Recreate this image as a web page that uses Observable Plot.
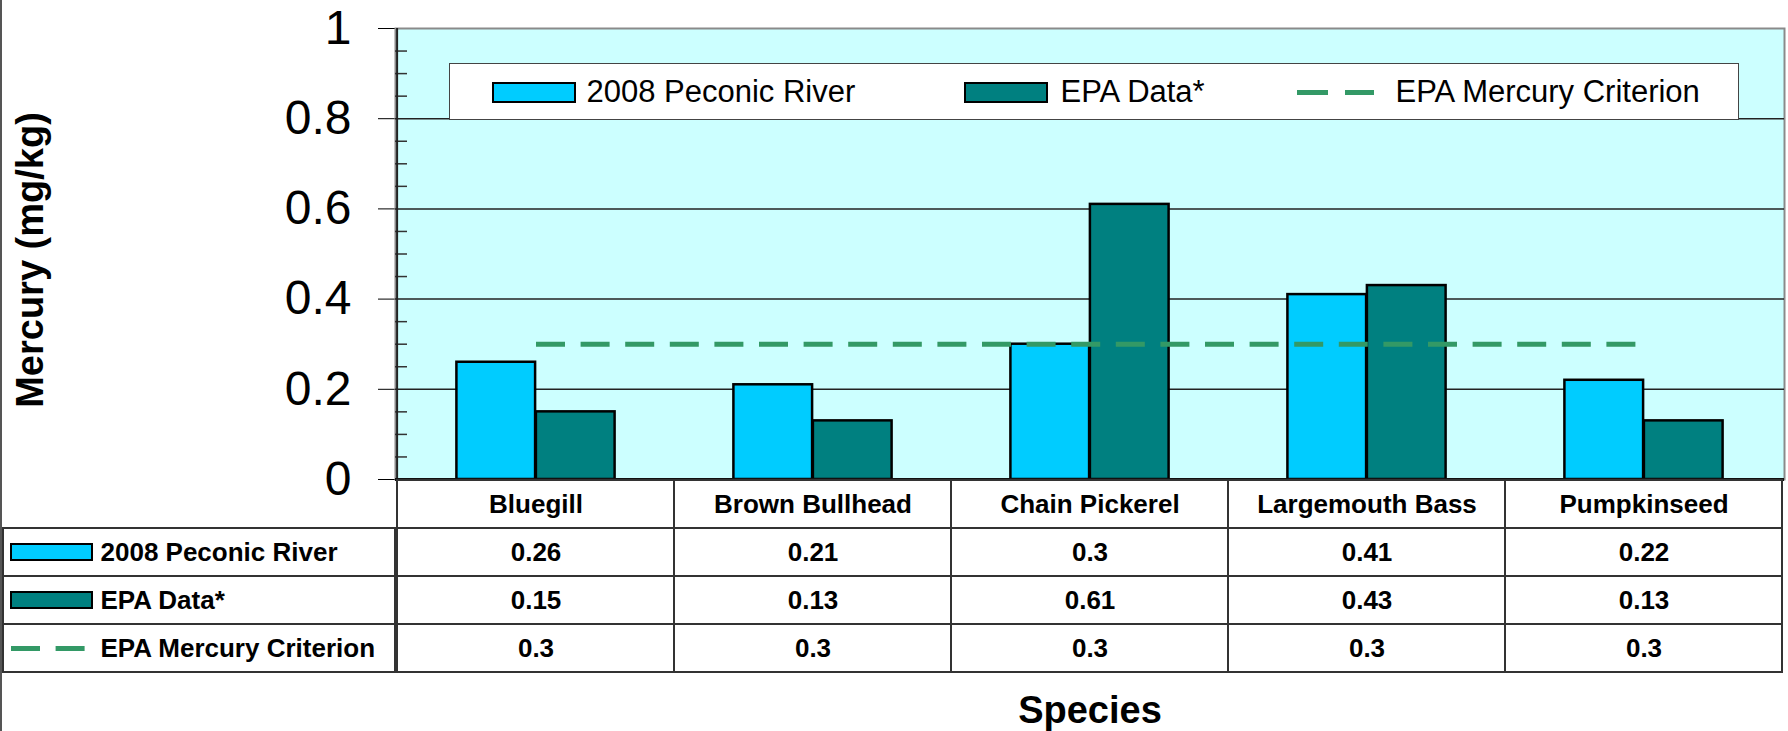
<!DOCTYPE html>
<html>
<head>
<meta charset="utf-8">
<script src="https://cdn.jsdelivr.net/npm/d3@7"></script>
<script src="https://cdn.jsdelivr.net/npm/@observablehq/plot@0.6"></script>
<style>
  html, body { margin: 0; padding: 0; background: #fff; }
  #wrap { position: relative; width: 1788px; height: 731px; background: #fff; overflow: hidden; font-family: "Liberation Sans", Arial, sans-serif; }
  #chart, #table { position: absolute; left: 0; }
  #chart { top: 0; }
  #table { top: 470px; }
  #chart svg, #table svg { overflow: visible; background: transparent; }
  #edge { position: absolute; left: 0; top: 0; width: 2px; height: 731px; background: #555; }
  #legend { position: absolute; left: 449px; top: 63px; width: 1290px; height: 57px; background: #fff; border: 1.5px solid #444; box-sizing: border-box; }
  #legend .sw { position: absolute; top: 17.5px; width: 84px; height: 21px; border: 2px solid #000; box-sizing: border-box; }
  #legend .dash { position: absolute; top: 26px; height: 5px; background: #339966; }
  #legend .lt { position: absolute; top: 12px; font-size: 31px; line-height: 31px; color: #000; white-space: nowrap; }
</style>
</head>
<body>
<div id="wrap">
  <div id="chart"></div>
  <div id="table"></div>
  <div id="legend"></div>
  <div id="edge"></div>
</div>
<script>
// ---------- data ----------
const species = ["Bluegill", "Brown Bullhead", "Chain Pickerel", "Largemouth Bass", "Pumpkinseed"];
const peconic2008 = [0.26, 0.21, 0.3, 0.41, 0.22];
const epaData = [0.15, 0.13, 0.61, 0.43, 0.13];
const epaCriterion = [0.3, 0.3, 0.3, 0.3, 0.3];
const seriesNames = ["2008 Peconic River", "EPA Data*", "EPA Mercury Criterion"];
const yTicks = [0, 0.2, 0.4, 0.6, 0.8, 1];
const yGrid = [0.2, 0.4, 0.6, 0.8];
const yMinorTicks = [0.05, 0.1, 0.15, 0.25, 0.3, 0.35, 0.45, 0.5, 0.55, 0.65, 0.7, 0.75, 0.85, 0.9, 0.95];
const yTitle = "Mercury (mg/kg)";
const xTitle = "Species";

// ---------- styles ----------
const C_LIGHT = "#00CCFF", C_TEAL = "#008080", C_LINE = "#339966", C_BG = "#CCFFFF";
const FONT = "'Liberation Sans', Arial, sans-serif";
const W = 1788, ML = 395, MR = 4;
const frameW = W - ML - MR;
const bw = frameW / species.length;
const barW = 79.5;
const gap = (bw - 2 * barW) / 2;

const rowsA = species.map((s, i) => ({species: s, value: peconic2008[i]}));
const rowsB = species.map((s, i) => ({species: s, value: epaData[i]}));
const rowsC = species.map((s, i) => ({species: s, value: epaCriterion[i]}));

// ---------- chart ----------
const chart = Plot.plot({
  width: W,
  height: 480,
  marginLeft: ML,
  marginRight: MR,
  marginTop: 28,
  marginBottom: 1,
  style: {fontSize: "48px", fontFamily: FONT, background: "transparent", color: "#000", overflow: "visible"},
  x: {type: "band", domain: species, padding: 0, axis: null},
  y: {domain: [0, 1], ticks: yTicks, tickFormat: d => String(d), tickSize: 17, tickPadding: 27, label: null},
  marks: [
    Plot.frame({fill: C_BG, stroke: "#8a8a8a", strokeWidth: 2}),
    Plot.ruleY(yGrid, {stroke: "#222", strokeWidth: 1.5}),
    Plot.ruleY(yMinorTicks, {stroke: "#333", strokeWidth: 1.5, insetRight: frameW - 12}),
    Plot.barY(rowsA, {x: "species", y: "value", fill: C_LIGHT, stroke: "#000", strokeWidth: 2.5, insetLeft: gap, insetRight: gap + barW}),
    Plot.barY(rowsB, {x: "species", y: "value", fill: C_TEAL, stroke: "#000", strokeWidth: 2.5, insetLeft: gap + barW, insetRight: gap}),
    Plot.line(rowsC, {x: "species", y: "value", stroke: C_LINE, strokeWidth: 5, strokeDasharray: "29,15.6", strokeLinecap: "butt"}),
    Plot.ruleX([species[0]], {dx: -bw / 2, stroke: "#222", strokeWidth: 2}),
    Plot.ruleY([0], {stroke: "#111", strokeWidth: 3}),
    Plot.text([yTitle], {text: d => d, frameAnchor: "left", textAnchor: "middle", dx: 30 - ML, dy: 6, rotate: -90, fontSize: 38, fontWeight: "bold", fill: "#000"})
  ]
});
document.getElementById("chart").appendChild(chart);

// ---------- data table ----------
const HEADER = "header";
const tableCells = [];
species.forEach((s, i) => {
  tableCells.push({species: s, row: HEADER, label: s});
  tableCells.push({species: s, row: seriesNames[0], label: String(peconic2008[i])});
  tableCells.push({species: s, row: seriesNames[1], label: String(epaData[i])});
  tableCells.push({species: s, row: seriesNames[2], label: String(epaCriterion[i])});
});

const TH = 731 - 470, TOP = 9, TBL = 194;
const table = Plot.plot({
  width: W,
  height: TH,
  marginLeft: ML,
  marginRight: MR,
  marginTop: TOP,
  marginBottom: TH - TOP - TBL,
  style: {fontSize: "26px", fontFamily: FONT, background: "transparent", color: "#000", overflow: "visible"},
  x: {type: "band", domain: species, padding: 0, axis: null},
  y: {type: "band", domain: [HEADER, ...seriesNames], padding: 0, axis: null},
  marks: [
    Plot.cell(tableCells, {x: "species", y: "row", fill: "#fff", stroke: "#333", strokeWidth: 2}),
    Plot.cell(seriesNames, {y: d => d, fill: "#fff", stroke: "#333", strokeWidth: 2, insetLeft: -(ML - 3), insetRight: frameW}),
    Plot.cell([seriesNames[0]], {y: d => d, fill: C_LIGHT, stroke: "#000", strokeWidth: 2, insetLeft: -(ML - 11), insetRight: frameW + (ML - 92), insetTop: 16, insetBottom: 16}),
    Plot.cell([seriesNames[1]], {y: d => d, fill: C_TEAL, stroke: "#000", strokeWidth: 2, insetLeft: -(ML - 11), insetRight: frameW + (ML - 92), insetTop: 16, insetBottom: 16}),
    Plot.ruleY([seriesNames[2]], {y: d => d, stroke: C_LINE, strokeWidth: 5, strokeDasharray: "29,15.6", insetLeft: -(ML - 11), insetRight: frameW + (ML - 85)}),
    Plot.text(seriesNames, {y: d => d, text: d => d, frameAnchor: "left", textAnchor: "start", dx: 100 - ML, fontSize: 26, fontWeight: "bold", fill: "#000"}),
    Plot.text(tableCells, {x: "species", y: "row", text: "label", fontSize: 26, fontWeight: "bold", fill: "#000"}),
    Plot.text([xTitle], {text: d => d, frameAnchor: "bottom", textAnchor: "middle", lineAnchor: "middle", dy: 37, fontSize: 38, fontWeight: "bold", fill: "#000"})
  ]
});
document.getElementById("table").appendChild(table);

// ---------- legend (inside plot area) ----------
const legend = document.getElementById("legend");
const legendItems = [
  {type: "box", color: C_LIGHT, sx: 41.5, tx: 136.5, label: seriesNames[0]},
  {type: "box", color: C_TEAL, sx: 513.5, tx: 610.5, label: seriesNames[1]},
  {type: "dash", color: C_LINE, sx: 846.5, tx: 945.5, label: seriesNames[2]}
];
legendItems.forEach(it => {
  if (it.type === "box") {
    const s = document.createElement("div");
    s.className = "sw";
    s.style.left = it.sx + "px";
    s.style.background = it.color;
    legend.appendChild(s);
  } else {
    [[0, 31], [48, 29]].forEach(([o, w]) => {
      const d = document.createElement("div");
      d.className = "dash";
      d.style.left = (it.sx + o) + "px";
      d.style.width = w + "px";
      legend.appendChild(d);
    });
  }
  const t = document.createElement("div");
  t.className = "lt";
  t.style.left = it.tx + "px";
  t.textContent = it.label;
  legend.appendChild(t);
});
</script>
</body>
</html>
